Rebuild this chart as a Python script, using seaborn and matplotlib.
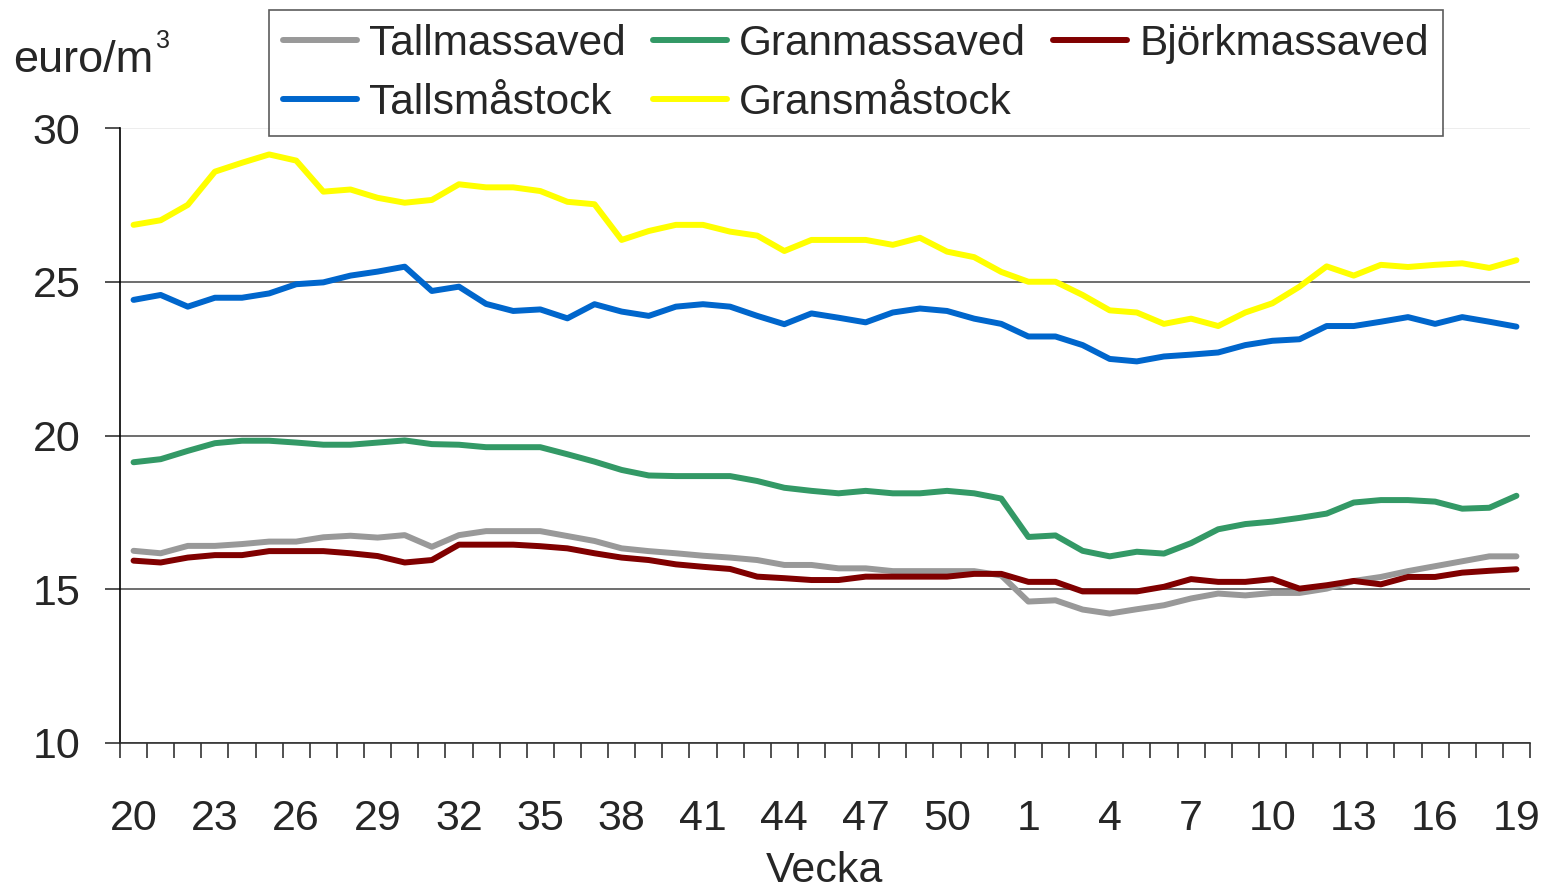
import numpy as np
import pandas as pd
import seaborn as sns
import matplotlib
matplotlib.use('Agg')
import matplotlib.pyplot as plt
from matplotlib.lines import Line2D

# veckor: 20-52, sedan 1-19
weeks = list(range(20, 53)) + list(range(1, 20))

tallmassaved = [16.25, 16.17, 16.41, 16.41, 16.47, 16.55, 16.55, 16.69, 16.74, 16.68,
                16.76, 16.38, 16.76, 16.89, 16.89, 16.89, 16.73, 16.57, 16.33, 16.24,
                16.17, 16.09, 16.03, 15.95, 15.79, 15.79, 15.68, 15.68, 15.59, 15.59,
                15.59, 15.59, 15.45, 14.60, 14.64, 14.34, 14.21, 14.35, 14.48, 14.70,
                14.86, 14.80, 14.88, 14.88, 15.02, 15.27, 15.40, 15.59, 15.75, 15.91,
                16.07, 16.07]
granmassaved = [19.13, 19.23, 19.50, 19.75, 19.83, 19.83, 19.77, 19.70, 19.70, 19.77,
                19.84, 19.72, 19.70, 19.62, 19.62, 19.62, 19.39, 19.15, 18.88, 18.70,
                18.68, 18.68, 18.68, 18.52, 18.30, 18.20, 18.12, 18.20, 18.12, 18.12,
                18.20, 18.12, 17.95, 16.70, 16.75, 16.25, 16.07, 16.22, 16.16, 16.50,
                16.95, 17.12, 17.20, 17.32, 17.46, 17.82, 17.90, 17.90, 17.85, 17.62,
                17.65, 18.04]
bjorkmassaved = [15.93, 15.87, 16.03, 16.11, 16.11, 16.24, 16.24, 16.24, 16.17, 16.08,
                 15.87, 15.95, 16.45, 16.45, 16.45, 16.40, 16.33, 16.17, 16.03, 15.95,
                 15.81, 15.73, 15.66, 15.41, 15.36, 15.30, 15.30, 15.41, 15.41, 15.41,
                 15.41, 15.50, 15.50, 15.24, 15.24, 14.93, 14.93, 14.93, 15.08, 15.33,
                 15.24, 15.24, 15.33, 15.02, 15.13, 15.27, 15.16, 15.40, 15.40, 15.54,
                 15.60, 15.65]
tallsmastock = [24.41, 24.57, 24.19, 24.48, 24.48, 24.62, 24.92, 24.98, 25.20, 25.33,
                25.49, 24.70, 24.84, 24.28, 24.05, 24.10, 23.81, 24.27, 24.03, 23.89,
                24.19, 24.27, 24.19, 23.89, 23.62, 23.97, 23.83, 23.68, 24.00, 24.13,
                24.05, 23.80, 23.63, 23.22, 23.22, 22.94, 22.49, 22.41, 22.57, 22.63,
                22.70, 22.94, 23.08, 23.13, 23.56, 23.56, 23.70, 23.85, 23.63, 23.85,
                23.70, 23.54]
gransmastock = [26.85, 27.00, 27.50, 28.58, 28.87, 29.14, 28.94, 27.93, 28.00, 27.73,
                27.57, 27.66, 28.17, 28.07, 28.07, 27.95, 27.60, 27.52, 26.36, 26.65,
                26.85, 26.85, 26.63, 26.50, 26.00, 26.36, 26.36, 26.36, 26.20, 26.43,
                25.98, 25.80, 25.32, 25.00, 25.00, 24.57, 24.07, 24.00, 23.63, 23.80,
                23.56, 24.00, 24.30, 24.84, 25.50, 25.20, 25.55, 25.48, 25.55, 25.60,
                25.45, 25.70]

series = ['Tallmassaved', 'Granmassaved', 'Björkmassaved', 'Tallsmåstock', 'Gransmåstock']
values = [tallmassaved, granmassaved, bjorkmassaved, tallsmastock, gransmastock]
colors = ['#999999', '#339966', '#800000', '#0066CC', '#FFFF00']

pos = np.arange(len(weeks))
df = pd.concat([pd.DataFrame({'pos': pos, 'pris': v, 'serie': s})
                for s, v in zip(series, values)], ignore_index=True)

sns.set_style('white')
plt.rcParams['font.family'] = ['Liberation Sans', 'DejaVu Sans']

fs = 31
fig = plt.figure(figsize=(15.41, 8.93), dpi=100)
ax = fig.add_axes([120/1541, 1 - 743/893, 1410/1541, 615/893])

sns.lineplot(data=df, x='pos', y='pris', hue='serie', hue_order=series,
             palette=dict(zip(series, colors)), linewidth=4.3, sort=False,
             legend=False, ax=ax)

ax.set_xlim(-0.5, len(weeks) - 0.5)
ax.set_ylim(10, 30)
ax.set_yticks([10, 15, 20, 25, 30])
ax.set_yticklabels(['10', '15', '20', '25', '30'])

# tick-streck mellan kategorierna, etiketter var tredje vecka
ax.set_xticks(np.arange(-0.5, len(weeks), 1.0))
ax.set_xticklabels([])
lab_pos = pos[::3]
ax.set_xticks(lab_pos, minor=True)
ax.set_xticklabels([str(weeks[i]) for i in lab_pos], minor=True)
ax.tick_params(axis='x', which='major', direction='out', length=10.5, width=1.2,
               color='#333333', bottom=True)
ax.tick_params(axis='x', which='minor', length=0, pad=40, labelsize=fs)
ax.tick_params(axis='y', direction='out', length=10.5, width=1.2, color='#333333',
               pad=18, labelsize=fs, left=True)

ax.grid(False)
ax.yaxis.grid(True, color='#555555', linewidth=1.2)
ax.get_ygridlines()[-1].set_alpha(0.12)
ax.set_axisbelow(True)
for s in ['top', 'right']:
    ax.spines[s].set_visible(False)
ax.spines['left'].set_color('black')
ax.spines['bottom'].set_color('#333333')
ax.spines['left'].set_linewidth(1.2)
ax.spines['bottom'].set_linewidth(1.2)

ax.set_xlabel('Vecka', fontsize=fs, labelpad=9)
ax.set_ylabel('')

fig.text(13/1541, 1 - 72/893, 'euro/m', fontsize=32.5, va='baseline', ha='left')
fig.text(156/1541, 1 - 48/893, '3', fontsize=18, va='baseline', ha='left')

# legend i tre kolumner, två rader
order = [0, 3, 1, 4, 2]
handles = [Line2D([], [], color=colors[i], linewidth=4.3) for i in order]
labels = [series[i] for i in order]
leg = fig.legend(handles, labels, ncol=3, loc='upper left',
                 bbox_to_anchor=(269/1541, 1 - 10/893), borderaxespad=0,
                 fontsize=30.5, frameon=True, fancybox=False, handlelength=1.75,
                 handletextpad=0.28, columnspacing=0.65, labelspacing=0.45,
                 borderpad=0.32)
leg.get_frame().set_edgecolor('#333333')
leg.get_frame().set_linewidth(1.2)

fig.savefig('out.png', dpi=100)
